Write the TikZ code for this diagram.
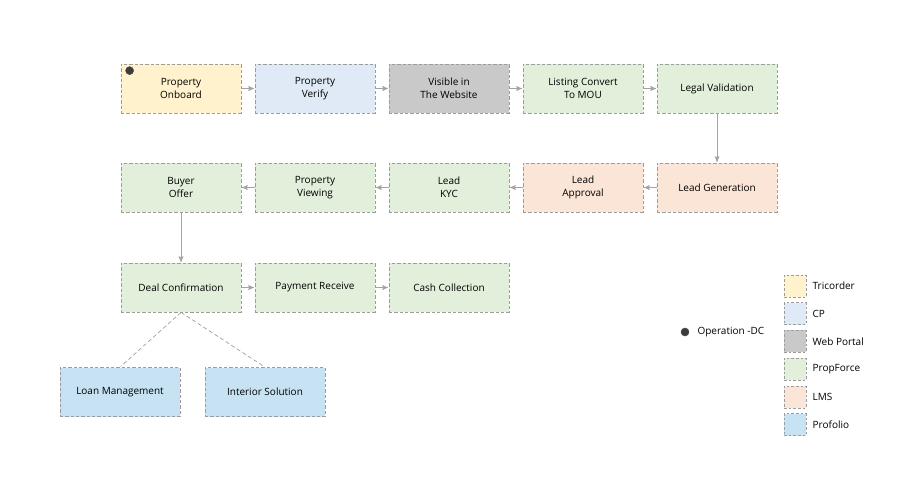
\documentclass[tikz,border=0pt]{standalone}
\usepackage{fontspec}
\setmainfont{Open Sans}
\usetikzlibrary{arrows,positioning}
\definecolor{tricol}{HTML}{FFF2CC}
\definecolor{cpcol}{HTML}{DFEAF6}
\definecolor{webcol}{HTML}{C9C9C9}
\definecolor{pfcol}{HTML}{E2EFDA}
\definecolor{lmscol}{HTML}{FBE5D6}
\definecolor{procol}{HTML}{C7E3F3}
\definecolor{edgegray}{HTML}{9C9C9C}
\definecolor{linegray}{HTML}{A3A3A3}
\definecolor{dotgray}{HTML}{3C3C3C}
\tikzset{
    stage/.style =  {rectangle,
                    draw=edgegray,
                    dash pattern=on 2.5pt off 1.5pt,
                    line width=0.6pt,
                    text=black,
                    align=center,
                    font=\fontsize{7.5}{10}\selectfont,
                    minimum width=90pt,
                    minimum height=36.75pt,
                    inner sep=2pt},
    tri/.style =    {stage, fill=tricol},
    cp/.style =     {stage, fill=cpcol},
    web/.style =    {stage, fill=webcol},
    pf/.style =     {stage, fill=pfcol},
    lms/.style =    {stage, fill=lmscol},
    pro/.style =    {stage, fill=procol},
    -,
    key/.style =    {rectangle,
                    draw=edgegray,
                    dash pattern=on 2pt off 1.5pt,
                    line width=0.6pt,
                    minimum size=16.5pt,
                    inner sep=0pt},
    keytext/.style = {font=\fontsize{7.5}{10}\selectfont,
                    inner sep=0pt},
    opdot/.style =  {circle,
                    fill=dotgray,
                    draw=black!70,
                    minimum size=6pt,
                    inner sep=0pt},
    flow/.style =   {draw=linegray,
                    line width=0.6pt,
                    ->},
    split/.style =  {draw=edgegray,
                    line width=0.5pt,
                    dash pattern=on 3pt off 2pt},
    >=stealth',
    shorten >= 0.5pt}

\begin{document}
\begin{tikzpicture}[x=0.75pt,y=-0.75pt,node distance=100.5pt]
    \useasboundingbox (0,0) rectangle (906,490);
    % first row
    \node[tri]  (po) at (181,88.5)                {Property\\Onboard};
    \node[cp]   (pv) [right of=po]                {Property\\Verify};
    \node[web]  (vw) [right of=pv]                {Visible in\\The Website};
    \node[pf]   (lc) [right of=vw]                {Listing Convert\\To MOU};
    \node[pf]   (lv) [right of=lc]                {Legal Validation};
    % second row
    \node[lms]  (lg) [below of=lv, node distance=74.25pt] {Lead Generation};
    \node[lms]  (la) [left of=lg]                 {Lead\\Approval};
    \node[pf]   (lk) [left of=la]                 {Lead\\KYC};
    \node[pf]   (pw) [left of=lk]                 {Property\\Viewing};
    \node[pf]   (bo) [left of=pw]                 {Buyer\\Offer};
    % third row
    \node[pf]   (dc) [below of=bo, node distance=75pt] {Deal Confirmation};
    \node[pf]   (pr) [right of=dc]                {Payment Receive};
    \node[pf]   (cc) [right of=pr]                {Cash Collection};
    % add-ons
    \node[pro]  (lm) [below of=dc, node distance=78.4pt, xshift=-45.75pt] {Loan Management};
    \node[pro]  (is) [below of=dc, node distance=78.4pt, xshift=63pt]     {Interior Solution};
    \node[opdot] (pod) [below right=3pt and 4.5pt of po.north west] {};

    \draw[flow] (po) -- (pv);
    \draw[flow] (pv) -- (vw);
    \draw[flow] (vw) -- (lc);
    \draw[flow] (lc) -- (lv);
    \draw[flow] (lv) -- (lg);
    \draw[flow] (lg) -- (la);
    \draw[flow] (la) -- (lk);
    \draw[flow] (lk) -- (pw);
    \draw[flow] (pw) -- (bo);
    \draw[flow] (bo) -- (dc);
    \draw[flow] (dc) -- (pr);
    \draw[flow] (pr) -- (cc);
    \draw[split] (dc.south) -- (lm.north);
    \draw[split] (dc.south) -- (is.north);

    % legend
    \node[opdot]   (op) at (685,332)          {};
    \node[keytext] (opt) [right=6pt of op]    {Operation -DC};
    \node[key, fill=tricol] (k1) at (795,286) {};
    \node[key, fill=cpcol]  (k2) [below of=k1, node distance=20.8pt] {};
    \node[key, fill=webcol] (k3) [below of=k2, node distance=20.8pt] {};
    \node[key, fill=pfcol]  (k4) [below of=k3, node distance=20.8pt] {};
    \node[key, fill=lmscol] (k5) [below of=k4, node distance=20.8pt] {};
    \node[key, fill=procol] (k6) [below of=k5, node distance=20.8pt] {};
    \node[keytext] (t1) [right=4.5pt of k1] {Tricorder};
    \node[keytext] (t2) [right=4.5pt of k2] {CP};
    \node[keytext] (t3) [right=4.5pt of k3] {Web Portal};
    \node[keytext] (t4) [right=4.5pt of k4] {PropForce};
    \node[keytext] (t5) [right=4.5pt of k5] {LMS};
    \node[keytext] (t6) [right=4.5pt of k6] {Profolio};
\end{tikzpicture}
\end{document}
